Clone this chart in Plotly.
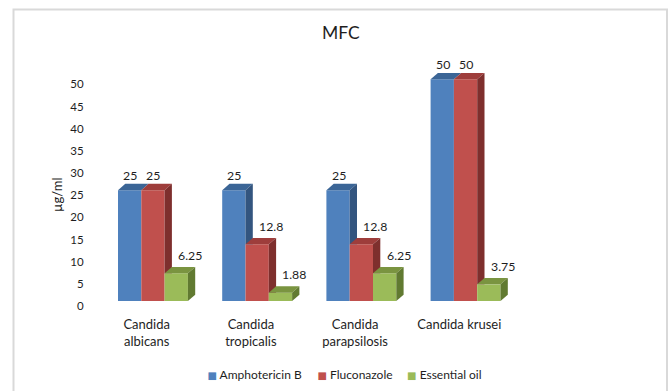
import plotly.graph_objects as go

# ---- data -------------------------------------------------------------
categories = ["Candida<br>albicans", "Candida<br>tropicalis",
              "Candida<br>parapsilosis", "Candida krusei"]
series_names = ["Amphotericin B", "Fluconazole", "Essential oil"]
amphotericin_b = [25, 25, 25, 50]
fluconazole = [25, 12.8, 12.8, 50]
essential_oil = [6.25, 1.88, 6.25, 3.75]
y_ticks = [0, 5, 10, 15, 20, 25, 30, 35, 40, 45, 50]

series_values = [amphotericin_b, fluconazole, essential_oil]

# ---- style ------------------------------------------------------------
FONT = "Lato"
TEXT = "#1E1E1E"
front_colors = ["#4F81BD", "#C0504D", "#9BBB59"]
top_colors = ["#3B6596", "#9E3D3B", "#7A9440"]
side_colors = ["#33557F", "#7E2F2D", "#617A31"]

W, H = 668, 391
# plot-area placement (pixels)
X_LEFT_PX, X_RIGHT_PX = 94.6, 511.4
Y_BASE_PX, PX_PER_UNIT, Y_MAX = 301.0, 4.434, 55
Y_TOP_PX = Y_BASE_PX - PX_PER_UNIT * Y_MAX
X_RANGE = (-0.5, 3.5)
PX_PER_CAT = (X_RIGHT_PX - X_LEFT_PX) / (X_RANGE[1] - X_RANGE[0])

BAR_W = 23.3 / PX_PER_CAT          # bar width in category units
FIRST_OFFSET = -28.7 / PX_PER_CAT  # left edge of first bar from category centre
DEPTH_X = 7.3 / PX_PER_CAT         # oblique depth, horizontal part
DEPTH_Y = 6.3 / PX_PER_UNIT        # oblique depth, vertical part

xs = list(range(len(categories)))

fig = go.Figure()

# front faces
for k, (name, vals) in enumerate(zip(series_names, series_values)):
    fig.add_trace(go.Bar(
        x=xs, y=vals, name=name, legendgroup=name, showlegend=False,
        width=BAR_W, offset=FIRST_OFFSET + k * BAR_W,
        marker=dict(color=front_colors[k], line=dict(width=0)),
        hovertemplate=name + ": %{y}<extra></extra>",
    ))

# legend entries with small square keys
legend_widths = [65, 44.6, 80]
for k, name in enumerate(series_names):
    fig.add_trace(go.Scatter(
        x=[None], y=[None], mode="markers", legendgroup=name,
        marker=dict(color="rgba(0,0,0,0)", size=1, line=dict(width=0)),
        legendwidth=legend_widths[k],
        name=(f'<span style="color:{front_colors[k]};font-family:DejaVu Sans;'
              f'font-size:10px">■</span> {name}'),
    ))

# top and side faces of the 3-D columns, painted left to right
shapes = []
annotations = []
for i in xs:
    for k, vals in enumerate(series_values):
        v = vals[i]
        x0 = i + FIRST_OFFSET + k * BAR_W
        x1 = x0 + BAR_W
        top = (f"M {x0},{v} L {x1},{v} L {x1 + DEPTH_X},{v + DEPTH_Y} "
               f"L {x0 + DEPTH_X},{v + DEPTH_Y} Z")
        shapes.append(dict(type="path", path=top, xref="x", yref="y",
                           fillcolor=top_colors[k], line=dict(width=0)))
        if k < len(series_values) - 1:
            r = series_values[k + 1][i]
            if v > r:
                side = (f"M {x1},{r} L {x1},{v} L {x1 + DEPTH_X},{v + DEPTH_Y} "
                        f"L {x1 + DEPTH_X},{r} Z")
                shapes.append(dict(type="path", path=side, xref="x", yref="y",
                                   fillcolor=side_colors[k], line=dict(width=0)))
        else:
            side = (f"M {x1},0 L {x1},{v} L {x1 + DEPTH_X},{v + DEPTH_Y} "
                    f"L {x1 + DEPTH_X},{DEPTH_Y} Z")
            shapes.append(dict(type="path", path=side, xref="x", yref="y",
                               fillcolor=side_colors[k], line=dict(width=0)))

        # value label; a column lower than its left neighbour gets its label
        # set off to the right of the step
        stepped = k > 0 and v < series_values[k - 1][i]
        annotations.append(dict(
            x=(x0 + x1) / 2, y=v, xref="x", yref="y",
            text=f"{v:g}", showarrow=False,
            xanchor="center", yanchor="middle",
            xshift=14 if stepped else 0.5, yshift=18 if stepped else 14.8,
            font=dict(family=FONT, size=12.3, color=TEXT),
        ))

# outer chart frame
shapes.append(dict(type="rect", xref="paper", yref="paper",
                   x0=13.5 / W, x1=667 / W, y0=-0.1, y1=1 - 9.5 / H,
                   line=dict(color="#D9D9D9", width=2), fillcolor="rgba(0,0,0,0)",
                   layer="below"))

# value-axis title
annotations.append(dict(
    x=57 / W, y=1 - 195 / H, xref="paper", yref="paper",
    text="µg/ml", textangle=-90, showarrow=False,
    xanchor="center", yanchor="middle",
    font=dict(family=FONT, size=13, color=TEXT),
))

fig.update_layout(
    width=W, height=H,
    margin=dict(l=0, r=0, t=0, b=0, autoexpand=False),
    paper_bgcolor="white", plot_bgcolor="white",
    barmode="overlay",
    title=dict(text="MFC", x=340.9 / W, y=1 - 33.3 / H,
               xanchor="center", yanchor="middle",
               font=dict(family=FONT, size=17.5, color=TEXT)),
    xaxis=dict(
        domain=[X_LEFT_PX / W, X_RIGHT_PX / W], range=list(X_RANGE),
        tickmode="array", tickvals=xs, ticktext=categories,
        showgrid=False, zeroline=False, showline=False, ticks="",
        ticklabelstandoff=14, automargin=False,
        tickfont=dict(family=FONT, size=13, color=TEXT),
    ),
    yaxis=dict(
        domain=[(H - Y_BASE_PX) / H, (H - Y_TOP_PX) / H], range=[0, Y_MAX],
        tickmode="array", tickvals=y_ticks,
        showgrid=False, zeroline=False, showline=False, ticks="",
        ticklabelstandoff=10, ticklabelshift=5, automargin=False,
        tickfont=dict(family=FONT, size=11.5, color=TEXT),
    ),
    legend=dict(
        orientation="h", x=167.5 / W, xanchor="left",
        y=1 - 374.7 / H, yanchor="middle",
        font=dict(family=FONT, size=12, color=TEXT),
        bgcolor="rgba(0,0,0,0)", borderwidth=0,
    ),
    shapes=shapes,
    annotations=annotations,
)

fig.write_html("out.html")
